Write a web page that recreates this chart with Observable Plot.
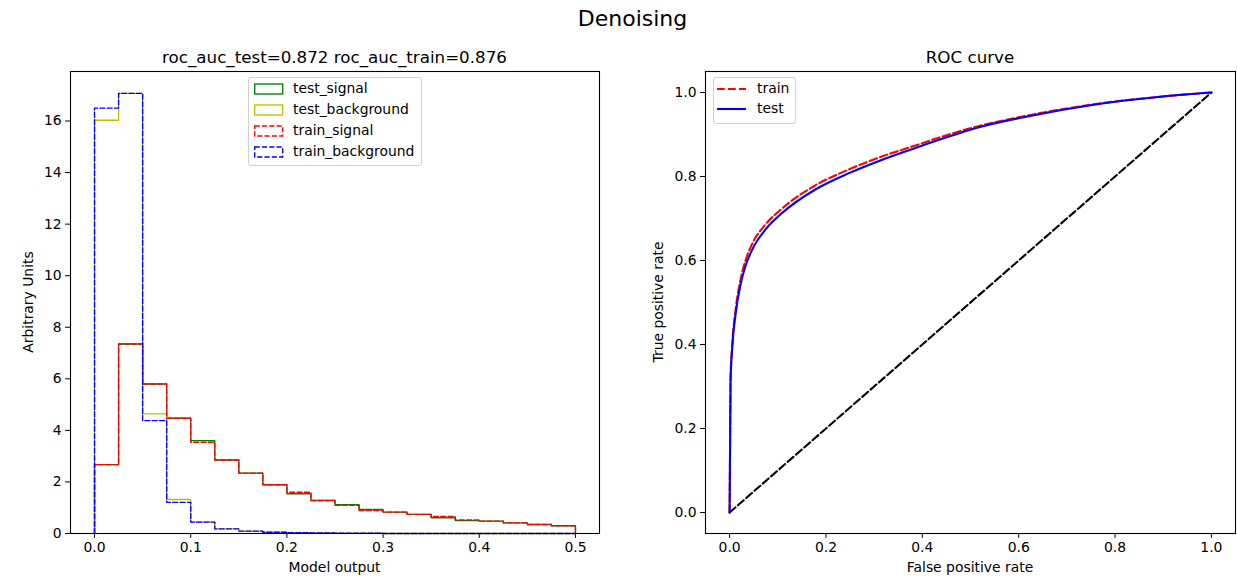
<!DOCTYPE html>
<html><head><meta charset="utf-8">
<script src="https://cdn.jsdelivr.net/npm/d3@7"></script>
<script src="https://cdn.jsdelivr.net/npm/@observablehq/plot@0.6"></script>
<style>
body{margin:0;background:#fff;font-family:"DejaVu Sans",sans-serif;color:#000;}
#fig{position:relative;width:1237px;height:576px;overflow:hidden;background:#fff;}
.abs{position:absolute;white-space:nowrap;line-height:1;}
.c{transform:translate(-50%,-50%);}
.rot{transform:translate(-50%,-50%) rotate(-90deg);}
.legend{position:absolute;background:rgba(255,255,255,0.8);border:1px solid #d0d0d0;border-radius:3px;box-sizing:border-box;}
.lrow{position:absolute;font-size:13.9px;line-height:1;white-space:nowrap;}
svg.sw{position:absolute;overflow:visible;}
</style></head><body><div id="fig"></div>
<script>
// ---------- data ----------
const binEdges = [0, 0.025, 0.05, 0.075, 0.1, 0.125, 0.15, 0.175, 0.2, 0.225, 0.25,
                  0.275, 0.3, 0.325, 0.35, 0.375, 0.4, 0.425, 0.45, 0.475, 0.5];
const testSignal = [2.67, 7.35, 5.80, 4.47, 3.60, 2.85, 2.34, 1.89, 1.54, 1.28,
                    1.12, 0.93, 0.83, 0.74, 0.61, 0.50, 0.48, 0.41, 0.35, 0.30];
const testBackground = [16.03, 17.07, 4.64, 1.32, 0.44, 0.18, 0.09, 0.05, 0.03, 0.02,
                        0.01, 0.01, 0, 0, 0, 0, 0, 0, 0, 0];
const trainSignal = [2.67, 7.35, 5.80, 4.47, 3.54, 2.85, 2.34, 1.89, 1.60, 1.28,
                     1.09, 0.89, 0.83, 0.74, 0.66, 0.53, 0.48, 0.41, 0.35, 0.30];
const trainBackground = [16.50, 17.07, 4.38, 1.21, 0.44, 0.18, 0.09, 0.05, 0.03, 0.02,
                         0.01, 0.01, 0, 0, 0, 0, 0, 0, 0, 0];
const histXTicks = [0.0, 0.1, 0.2, 0.3, 0.4, 0.5];
const histYTicks = [0, 2, 4, 6, 8, 10, 12, 14, 16];

const rocFprTest = [0, 0.001, 0.002, 0.0055, 0.0124, 0.0228, 0.033, 0.047, 0.0747, 0.109,
                    0.178, 0.248, 0.317, 0.386, 0.455, 0.51, 0.618, 0.756, 0.894, 1.0];
const rocTprTest = [0, 0.15, 0.31, 0.393, 0.472, 0.543, 0.587, 0.626, 0.674, 0.713,
                    0.769, 0.808, 0.840, 0.868, 0.895, 0.915, 0.943, 0.971, 0.990, 1.0];
const rocFprTrain = [0, 0.001, 0.002, 0.0055, 0.0124, 0.0228, 0.033, 0.047, 0.0747, 0.109,
                     0.178, 0.248, 0.317, 0.386, 0.455, 0.51, 0.618, 0.756, 0.894, 1.0];
const rocTprTrain = [0, 0.16, 0.32, 0.40, 0.482, 0.555, 0.600, 0.640, 0.686, 0.724,
                     0.779, 0.817, 0.848, 0.874, 0.900, 0.918, 0.945, 0.972, 0.990, 1.0];
const diagX = [0, 1];
const diagY = [0, 1];
const rocTicks = [0.0, 0.2, 0.4, 0.6, 0.8, 1.0];

// ---------- helpers ----------
function stepOutline(values) {
  const pts = [{x: binEdges[0], y: 0}];
  values.forEach((v, i) => pts.push({x: binEdges[i], y: v}));
  pts.push({x: binEdges[binEdges.length - 1], y: values[values.length - 1]});
  pts.push({x: binEdges[binEdges.length - 1], y: 0});
  return pts;
}
const zipXY = (xs, ys) => xs.map((x, i) => ({x, y: ys[i]}));
const f1 = d3.format(".1f");
const baseStyle = {fontFamily: "DejaVu Sans, sans-serif", fontSize: "13.9px", color: "black", background: "transparent", overflow: "visible"};
const histDash = "5.1,2.2";
const rocDash = "7.7,3.3";

const fig = document.getElementById("fig");

// ---------- left: histogram ----------
const left = Plot.plot({
  width: 620, height: 576,
  marginLeft: 70, marginRight: 21, marginTop: 71, marginBottom: 43,
  style: baseStyle,
  x: {domain: [-0.025, 0.525], ticks: histXTicks, tickFormat: f1, tickSize: 4.9, tickPadding: 4, label: null},
  y: {domain: [0, 17.92], ticks: histYTicks, tickSize: 4.9, tickPadding: 4, label: null},
  marks: [
    Plot.line(stepOutline(testSignal), {x: "x", y: "y", curve: "step-after", stroke: "#008000", strokeWidth: 1.35}),
    Plot.line(stepOutline(testBackground), {x: "x", y: "y", curve: "step-after", stroke: "#bfbf00", strokeWidth: 1.35}),
    Plot.line(stepOutline(trainSignal), {x: "x", y: "y", curve: "step-after", stroke: "#ff0000", strokeWidth: 1.35, strokeDasharray: histDash}),
    Plot.line(stepOutline(trainBackground), {x: "x", y: "y", curve: "step-after", stroke: "#0000ff", strokeWidth: 1.35, strokeDasharray: histDash}),
    Plot.frame({stroke: "black", strokeWidth: 1.1})
  ]
});
left.style.position = "absolute"; left.style.left = "0px"; left.style.top = "0px";
fig.appendChild(left);

// ---------- right: ROC ----------
const right = Plot.plot({
  width: 617, height: 576,
  marginLeft: 85, marginRight: 2, marginTop: 71, marginBottom: 43,
  style: baseStyle,
  x: {domain: [-0.05, 1.05], ticks: rocTicks, tickFormat: f1, tickSize: 4.9, tickPadding: 4, label: null},
  y: {domain: [-0.05, 1.05], ticks: rocTicks, tickFormat: f1, tickSize: 4.9, tickPadding: 4, label: null},
  marks: [
    Plot.line(zipXY(diagX, diagY), {x: "x", y: "y", stroke: "black", strokeWidth: 2.1, strokeDasharray: rocDash}),
    Plot.line(zipXY(rocFprTrain, rocTprTrain), {x: "x", y: "y", curve: "monotone-x", stroke: "#ff0000", strokeWidth: 2.1, strokeDasharray: rocDash}),
    Plot.line(zipXY(rocFprTest, rocTprTest), {x: "x", y: "y", curve: "monotone-x", stroke: "#0000ff", strokeWidth: 2.1}),
    Plot.frame({stroke: "black", strokeWidth: 1.1})
  ]
});
right.style.position = "absolute"; right.style.left = "620px"; right.style.top = "0px";
fig.appendChild(right);

// ---------- texts ----------
function addText(txt, x, y, size, cls) {
  const d = document.createElement("div");
  d.className = "abs " + cls;
  d.style.left = x + "px"; d.style.top = y + "px"; d.style.fontSize = size + "px";
  d.textContent = txt;
  fig.appendChild(d);
}
addText("Denoising", 632.5, 19, 22, "c");
addText("roc_auc_test=0.872 roc_auc_train=0.876", 334.5, 57, 16.7, "c");
addText("ROC curve", 970, 57, 16.7, "c");
addText("Model output", 334.5, 568, 13.9, "c");
addText("Arbitrary Units", 29, 302, 13.9, "rot");
addText("False positive rate", 970, 568, 13.9, "c");
addText("True positive rate", 659, 302, 13.9, "rot");

// ---------- legends ----------
function legendBox(x, y, w, h) {
  const b = document.createElement("div");
  b.className = "legend";
  Object.assign(b.style, {left: x + "px", top: y + "px", width: w + "px", height: h + "px"});
  fig.appendChild(b);
}
function swatchRect(x, cy, color, dashed) {
  const s = document.createElementNS("http://www.w3.org/2000/svg", "svg");
  s.setAttribute("class", "sw"); s.setAttribute("width", 30); s.setAttribute("height", 12);
  s.style.left = x + "px"; s.style.top = (cy - 6) + "px";
  s.innerHTML = `<rect x="0.7" y="1" width="28" height="10" fill="none" stroke="${color}" stroke-width="1.35" ${dashed ? `stroke-dasharray="${histDash}"` : ''}/>`;
  fig.appendChild(s);
}
function swatchLine(x, cy, color, dashed) {
  const s = document.createElementNS("http://www.w3.org/2000/svg", "svg");
  s.setAttribute("class", "sw"); s.setAttribute("width", 30); s.setAttribute("height", 6);
  s.style.left = x + "px"; s.style.top = (cy - 3) + "px";
  s.innerHTML = `<line x1="0" y1="3" x2="29" y2="3" stroke="${color}" stroke-width="2.1" ${dashed ? `stroke-dasharray="${rocDash}"` : ''}/>`;
  fig.appendChild(s);
}
function legendText(txt, x, cy) {
  const d = document.createElement("div");
  d.className = "lrow";
  d.style.left = x + "px"; d.style.top = (cy - 7.5) + "px";
  d.textContent = txt;
  fig.appendChild(d);
}
const histLegend = [
  ["test_signal", "#008000", false],
  ["test_background", "#bfbf00", false],
  ["train_signal", "#ff0000", true],
  ["train_background", "#0000ff", true]
];
legendBox(248, 77, 174, 89);
histLegend.forEach(([t, c, dsh], i) => {
  const cy = 89 + i * 21;
  swatchRect(254, cy, c, dsh);
  legendText(t, 293, cy);
});
const rocLegend = [["train", "#ff0000", true], ["test", "#0000ff", false]];
legendBox(713, 77, 83, 47);
rocLegend.forEach(([t, c, dsh], i) => {
  const cy = 89 + i * 20;
  swatchLine(717, cy, c, dsh);
  legendText(t, 757, cy);
});
</script></body></html>
